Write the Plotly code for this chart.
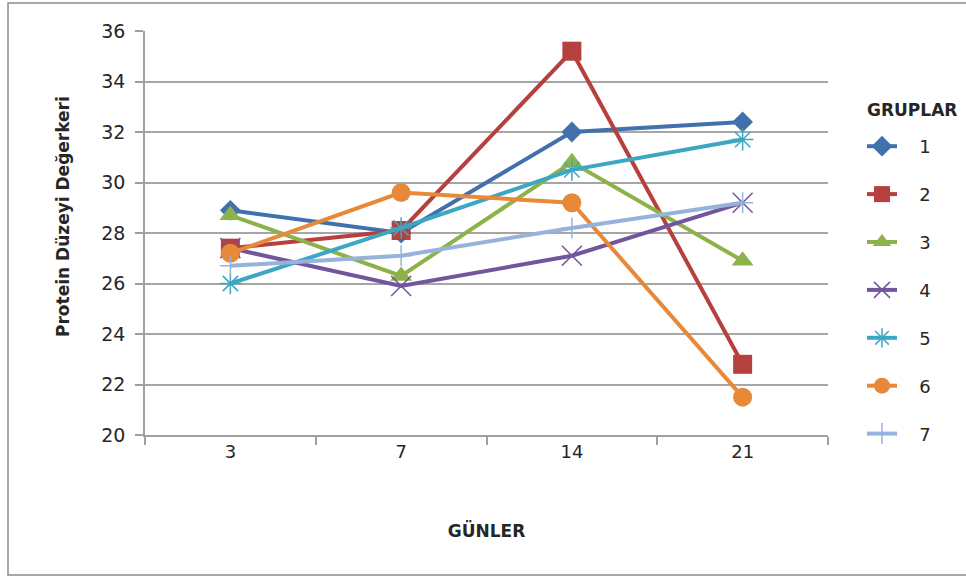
import plotly.graph_objects as go

# Ölçüm günleri (kategori ekseni)
gunler = ["3", "7", "14", "21"]

# Grup bazında protein düzeyi değerleri
grup_1 = [28.9, 28.0, 32.0, 32.4]
grup_2 = [27.4, 28.1, 35.2, 22.8]
grup_3 = [28.7, 26.3, 30.8, 26.9]
grup_4 = [27.4, 25.9, 27.1, 29.2]
grup_5 = [26.0, 28.2, 30.5, 31.7]
grup_6 = [27.2, 29.6, 29.2, 21.5]
grup_7 = [26.7, 27.1, 28.2, 29.2]

grup_adlari = ["1", "2", "3", "4", "5", "6", "7"]
degerler = [grup_1, grup_2, grup_3, grup_4, grup_5, grup_6, grup_7]

renkler = ["#4170AD", "#B5403D", "#8DB24A", "#72559B", "#3CA7C2", "#E8893A", "#97B3DB"]
semboller = ["diamond", "square", "triangle-up", "x-thin-open",
             "asterisk-open", "circle", "cross-thin-open"]
boyutlar = [16, 19, 19, 20, 18, 19, 15]

fig = go.Figure()
for ad, y, renk, sembol, boyut in zip(grup_adlari, degerler, renkler, semboller, boyutlar):
    ince = sembol.endswith("-open")
    fig.add_trace(go.Scatter(
        x=gunler, y=y, name="\u00a0\u00a0\u00a0" + ad, mode="lines+markers",
        legendgroup=ad,
        line=dict(color=renk, width=4),
        marker=dict(symbol=sembol, size=boyut, color=renk,
                    line=dict(color=renk, width=1.5 if ince else 0)),
    ))

W, H = 966, 578
L, R, T, B = 145, 138, 31, 143
pw, ph = W - L - R, H - T - B

YAZI = "DejaVu Sans, Verdana, sans-serif"

fig.update_layout(
    width=W, height=H,
    margin=dict(l=L, r=R, t=T, b=B),
    paper_bgcolor="white", plot_bgcolor="white",
    font=dict(family=YAZI, size=18, color="#262626"),
    showlegend=True,
    legend=dict(
        x=(862 - L) / pw, y=(H - B - 128) / ph,
        xanchor="left", yanchor="top",
        tracegroupgap=21.5, font=dict(size=18),
        bgcolor="rgba(0,0,0,0)",
    ),
    xaxis=dict(
        type="category",
        title=dict(text="<b>GÜNLER</b>", font=dict(size=17), standoff=64),
        showline=True, linecolor="#A0A0A0", linewidth=1.5,
        ticks="outside", tickson="boundaries", ticklen=8,
        tickcolor="#A0A0A0", tickwidth=1.5,
        tickfont=dict(size=18),
        showgrid=False, zeroline=False,
        range=[-0.5, 3.5],
    ),
    yaxis=dict(
        range=[20, 36], dtick=2,
        showline=True, linecolor="#A0A0A0", linewidth=1.5,
        ticks="outside", ticklen=8, tickcolor="#A0A0A0", tickwidth=1.5,
        tickfont=dict(size=19), ticklabelstandoff=6,
        showgrid=True, gridcolor="#A6A6A6", gridwidth=2,
        zeroline=False,
    ),
    annotations=[
        dict(
            text="<b>GRUPLAR</b>", xref="paper", yref="paper",
            x=(865 - L) / pw, y=(H - B - 110) / ph,
            xanchor="left", yanchor="middle", showarrow=False,
            font=dict(family=YAZI, size=17, color="#262626"),
        ),
        dict(
            text="<b>Protein Düzeyi Değerkeri</b>", xref="paper", yref="paper",
            x=(63 - L) / pw, y=(H - B - 217) / ph,
            xanchor="center", yanchor="middle", textangle=-90, showarrow=False,
            font=dict(family=YAZI, size=17, color="#262626"),
        ),
    ],
    shapes=[dict(
        type="rect", xref="paper", yref="paper",
        x0=(8 - L) / pw, x1=(W + 5 - L) / pw,
        y0=(H - B - 575) / ph, y1=(H - B - 3) / ph,
        line=dict(color="#8C8C8C", width=1.5), layer="below",
    )],
)

fig.write_html("out.html")
